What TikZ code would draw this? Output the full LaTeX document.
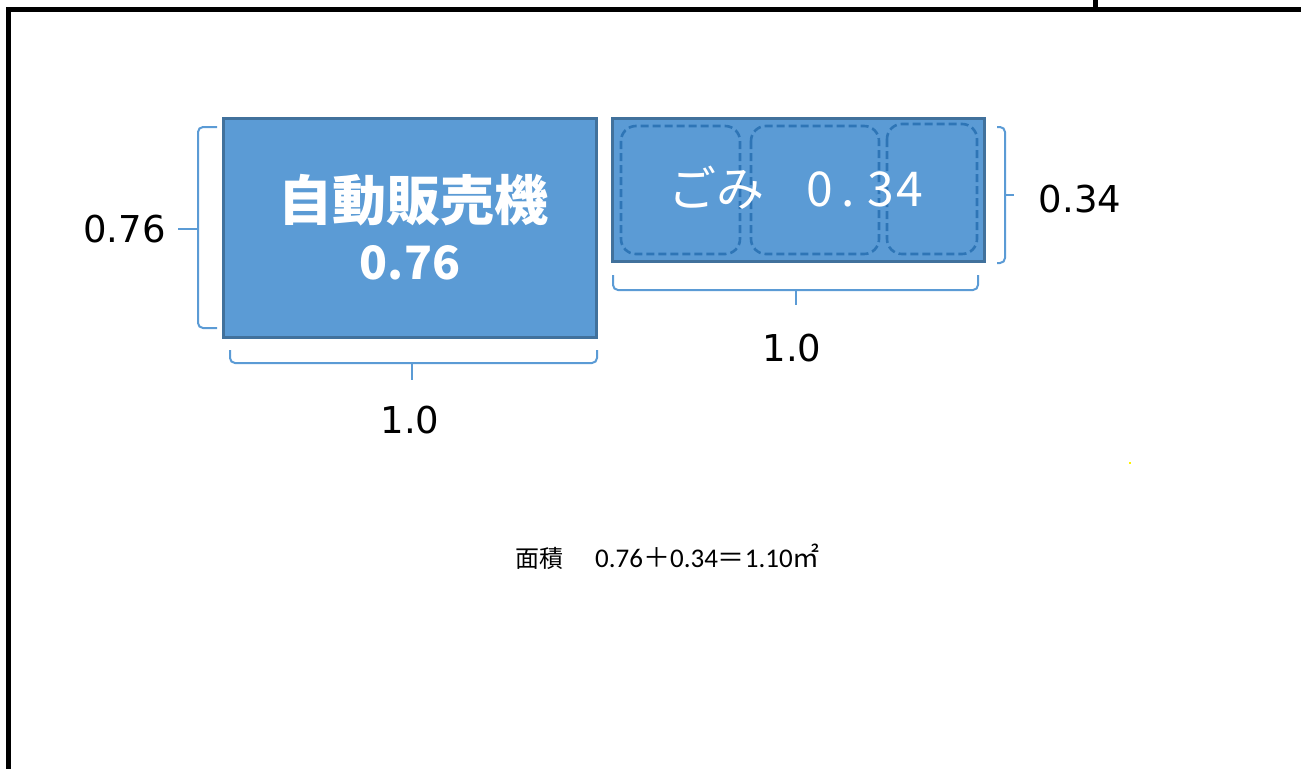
\documentclass[tikz,border=0pt]{standalone}
\usepackage{fontspec}
\setmainfont{DejaVu Sans}
\newfontfamily\jp{Noto Sans CJK JP}
\newfontfamily\carl{Carlito}
\definecolor{boxfill}{HTML}{5B9BD5}
\definecolor{boxline}{HTML}{41719C}
\definecolor{dashline}{HTML}{2E75B6}
\definecolor{brace}{HTML}{5B9BD5}
\tikzset{
  box/.style={draw=boxline, fill=boxfill, line width=3pt, inner sep=0pt},
  bin/.style={draw=dashline, line width=2.6pt, dash pattern=on 8pt off 4pt, rounded corners=15pt},
  br/.style={draw=brace, line width=2pt, rounded corners=5pt},
  dim/.style={inner sep=0pt, font=\fontsize{37}{40}\selectfont, text=black},
}
\begin{document}
\begin{tikzpicture}[x=1pt,y=-1pt]
\useasboundingbox (0,0) rectangle (1301,769);
% frame
\draw[line width=5pt, line join=miter] (1301,9.5) -- (8.5,9.5) -- (8.5,769);
\draw[line width=5pt] (1095.5,0) -- (1095.5,9.5);
% vending machine
\node[box, minimum width=373pt, minimum height=219pt] (vend) at (410,228) {};
\node[inner sep=0pt, text=white, font=\jp\bfseries\fontsize{54}{60}\selectfont] (vendt) at (413,200) {自動販売機};
\node[inner sep=0pt, text=white, font=\jp\bfseries\fontsize{46}{50}\selectfont] (vendn) at (410,263) {0.76};
% garbage
\node[box, minimum width=372pt, minimum height=143pt] (gomi) at (798.5,190) {};
\draw[bin] (621,126) rectangle (740,254);
\draw[bin] (751,126) rectangle (879,254);
\draw[bin] (887,124) rectangle (977,254);
\node[inner sep=0pt, anchor=west, text=white, font=\jp\fontsize{48}{52}\selectfont] (gomit) at (668,188) {ごみ\hspace{42pt}0\kern9pt.\kern12pt3\kern3pt4};
% braces
\draw[br] (217,127) -- (198,127) -- (198,328) -- (217,328);
\draw[br] (198,229) -- (178,229);
\draw[br] (230,350) -- (230,363) -- (597,363) -- (597,350);
\draw[br] (412,363) -- (412,380);
\draw[br] (997,127) -- (1005,127) -- (1005,263) -- (997,263);
\draw[br] (1005,195) -- (1014,195);
\draw[br] (613,275) -- (613,290) -- (978,290) -- (978,275);
\draw[br] (796,290) -- (796,305);
% dimension labels
\node[dim] (h1) at (124.5,229) {0.76};
\node[dim] (w1) at (410,420) {1.0};
\node[dim] (h2) at (1080,199) {0.34};
\node[dim] (w2) at (792,348) {1.0};
% formula
\node[inner sep=0pt, anchor=west, font=\fontsize{27}{30}\selectfont] (area) at (515,557) {{\jp\fontsize{24}{28}\selectfont 面積}\hspace{32pt}{\carl 0.76}{\jp ＋}{\carl 0.34}{\jp ＝}{\carl 1.10}{\jp ㎡}};
% small yellow mark
\fill[yellow] (1129,462) rectangle (1131,464);
\end{tikzpicture}
\end{document}
